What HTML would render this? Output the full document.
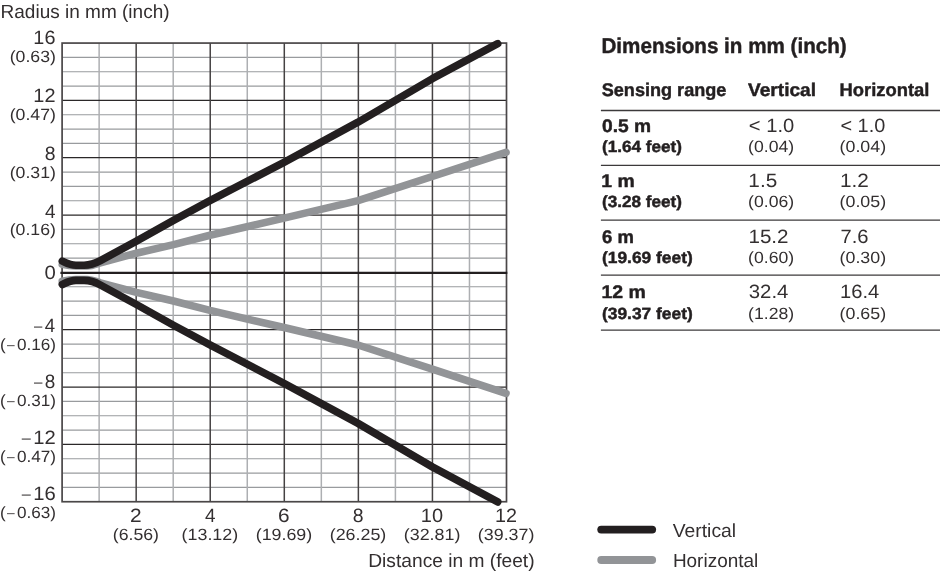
<!DOCTYPE html>
<html lang="en"><head><meta charset="utf-8"><title>Dimensions in mm (inch)</title>
<style>
html,body{margin:0;padding:0;background:#fff;}
body{width:940px;height:575px;overflow:hidden;position:relative;font-family:"Liberation Sans",sans-serif;}
svg{position:absolute;left:0;top:0;display:block;}
text{font-family:"Liberation Sans",sans-serif;fill:#332f30;text-rendering:geometricPrecision;}
.b{font-weight:bold;fill:#231f20;stroke:#231f20;stroke-width:0.45px;stroke-linejoin:round;}
</style></head><body>
<svg width="940" height="575" viewBox="0 0 940 575">
<rect width="940" height="575" fill="#fff"/>
<g stroke="#adafb2" fill="none">
<line x1="62.1" y1="57.40" x2="506.5" y2="57.40" stroke="#999b9e" stroke-width="1.15"/>
<line x1="62.1" y1="71.74" x2="506.5" y2="71.74" stroke="#999b9e" stroke-width="1.15"/>
<line x1="62.1" y1="86.07" x2="506.5" y2="86.07" stroke="#999b9e" stroke-width="1.15"/>
<line x1="62.1" y1="114.74" x2="506.5" y2="114.74" stroke="#999b9e" stroke-width="1.15"/>
<line x1="62.1" y1="129.07" x2="506.5" y2="129.07" stroke="#999b9e" stroke-width="1.15"/>
<line x1="62.1" y1="143.40" x2="506.5" y2="143.40" stroke="#999b9e" stroke-width="1.15"/>
<line x1="62.1" y1="172.07" x2="506.5" y2="172.07" stroke="#999b9e" stroke-width="1.15"/>
<line x1="62.1" y1="186.40" x2="506.5" y2="186.40" stroke="#999b9e" stroke-width="1.15"/>
<line x1="62.1" y1="200.73" x2="506.5" y2="200.73" stroke="#999b9e" stroke-width="1.15"/>
<line x1="62.1" y1="229.40" x2="506.5" y2="229.40" stroke="#999b9e" stroke-width="1.15"/>
<line x1="62.1" y1="243.73" x2="506.5" y2="243.73" stroke="#999b9e" stroke-width="1.15"/>
<line x1="62.1" y1="258.07" x2="506.5" y2="258.07" stroke="#999b9e" stroke-width="1.15"/>
<line x1="62.1" y1="286.73" x2="506.5" y2="286.73" stroke="#999b9e" stroke-width="1.15"/>
<line x1="62.1" y1="301.07" x2="506.5" y2="301.07" stroke="#999b9e" stroke-width="1.15"/>
<line x1="62.1" y1="315.40" x2="506.5" y2="315.40" stroke="#999b9e" stroke-width="1.15"/>
<line x1="62.1" y1="344.07" x2="506.5" y2="344.07" stroke="#999b9e" stroke-width="1.15"/>
<line x1="62.1" y1="358.40" x2="506.5" y2="358.40" stroke="#999b9e" stroke-width="1.15"/>
<line x1="62.1" y1="372.73" x2="506.5" y2="372.73" stroke="#999b9e" stroke-width="1.15"/>
<line x1="62.1" y1="401.40" x2="506.5" y2="401.40" stroke="#999b9e" stroke-width="1.15"/>
<line x1="62.1" y1="415.73" x2="506.5" y2="415.73" stroke="#999b9e" stroke-width="1.15"/>
<line x1="62.1" y1="430.06" x2="506.5" y2="430.06" stroke="#999b9e" stroke-width="1.15"/>
<line x1="62.1" y1="458.73" x2="506.5" y2="458.73" stroke="#999b9e" stroke-width="1.15"/>
<line x1="62.1" y1="473.06" x2="506.5" y2="473.06" stroke="#999b9e" stroke-width="1.15"/>
<line x1="62.1" y1="487.40" x2="506.5" y2="487.40" stroke="#999b9e" stroke-width="1.15"/>
<line x1="99.13" y1="43.07" x2="99.13" y2="501.73" stroke-width="1.5"/>
<line x1="173.20" y1="43.07" x2="173.20" y2="501.73" stroke-width="1.5"/>
<line x1="247.27" y1="43.07" x2="247.27" y2="501.73" stroke-width="1.5"/>
<line x1="321.33" y1="43.07" x2="321.33" y2="501.73" stroke-width="1.5"/>
<line x1="395.40" y1="43.07" x2="395.40" y2="501.73" stroke-width="1.5"/>
<line x1="469.47" y1="43.07" x2="469.47" y2="501.73" stroke-width="1.5"/>
</g>
<g stroke="#2b2829" fill="none">
<line x1="62.1" y1="100.40" x2="506.5" y2="100.40" stroke-width="1.25"/>
<line x1="62.1" y1="157.74" x2="506.5" y2="157.74" stroke-width="1.25"/>
<line x1="62.1" y1="215.07" x2="506.5" y2="215.07" stroke-width="1.25"/>
<line x1="62.1" y1="329.73" x2="506.5" y2="329.73" stroke-width="1.25"/>
<line x1="62.1" y1="387.06" x2="506.5" y2="387.06" stroke-width="1.25"/>
<line x1="62.1" y1="444.40" x2="506.5" y2="444.40" stroke-width="1.25"/>
<line x1="136.17" y1="43.07" x2="136.17" y2="501.73" stroke="#454243" stroke-width="1.5"/>
<line x1="210.23" y1="43.07" x2="210.23" y2="501.73" stroke="#454243" stroke-width="1.5"/>
<line x1="284.30" y1="43.07" x2="284.30" y2="501.73" stroke="#454243" stroke-width="1.5"/>
<line x1="358.37" y1="43.07" x2="358.37" y2="501.73" stroke="#454243" stroke-width="1.5"/>
<line x1="432.43" y1="43.07" x2="432.43" y2="501.73" stroke="#454243" stroke-width="1.5"/>
</g>
<rect x="62.1" y="43.07" width="444.40" height="458.66" fill="none" stroke="#4a4748" stroke-width="1.7"/>
<line x1="60.4" y1="272.95" x2="507.3" y2="272.95" stroke="#231f20" stroke-width="2.2"/>
<path d="M62.3,264.3 C66.0,265.2 70.0,266.0 76.0,266.0 L87.0,266.0 C92.0,266.0 96.0,264.2 100.4,262.8 L136.4,253.2 173.5,244.6 210.0,235.2 284.0,218.1 358.0,200.6 432.3,176.5 506.0,152.3" fill="none" stroke="#929497" stroke-width="7.6" stroke-linecap="round" stroke-linejoin="round"/>
<path d="M62.3,281.3 C66.0,280.4 70.0,279.6 76.0,279.6 L87.0,279.6 C92.0,279.6 96.0,281.4 100.4,282.8 L136.4,292.4 173.5,301.0 210.0,310.4 284.0,327.5 358.0,345.0 432.3,369.1 506.0,393.3" fill="none" stroke="#929497" stroke-width="7.6" stroke-linecap="round" stroke-linejoin="round"/>
<path d="M62.3,261.1 C66.0,262.8 70.0,265.2 76.0,265.2 L84.0,265.2 C90.0,265.2 94.0,264.1 100.4,260.6 L136.4,241.1 173.5,220.4 210.0,200.7 284.0,162.3 358.0,122.2 432.3,78.7 497.7,43.7" fill="none" stroke="#231f20" stroke-width="7.6" stroke-linecap="round" stroke-linejoin="round"/>
<path d="M62.3,284.5 C66.0,282.8 70.0,280.4 76.0,280.4 L84.0,280.4 C90.0,280.4 94.0,281.5 100.4,285.0 L136.4,304.5 173.5,325.2 210.0,344.9 284.0,383.3 358.0,423.4 432.3,466.9 497.7,501.9" fill="none" stroke="#231f20" stroke-width="7.6" stroke-linecap="round" stroke-linejoin="round"/>
<line x1="601.2" y1="529.6" x2="652.2" y2="529.6" stroke="#231f20" stroke-width="7.8" stroke-linecap="round"/>
<line x1="601.2" y1="560.0" x2="652.2" y2="560.0" stroke="#929497" stroke-width="7.8" stroke-linecap="round"/>
<g stroke="#3c3a3b" stroke-width="1.3">
<line x1="600.9" y1="110.5" x2="940" y2="110.5"/>
<line x1="600.9" y1="165.4" x2="940" y2="165.4"/>
<line x1="600.9" y1="220.2" x2="940" y2="220.2"/>
<line x1="600.9" y1="275.1" x2="940" y2="275.1"/>
<line x1="600.9" y1="330.1" x2="940" y2="330.1"/>
</g>
<text x="0.57" y="17.60" font-size="19.0" textLength="169.00" lengthAdjust="spacingAndGlyphs">Radius in mm (inch)</text>
<text x="368.26" y="566.80" font-size="19.0" textLength="166.34" lengthAdjust="spacingAndGlyphs">Distance in m (feet)</text>
<text x="672.75" y="536.70" font-size="19.0" textLength="63.34" lengthAdjust="spacingAndGlyphs">Vertical</text>
<text x="672.89" y="567.30" font-size="19.0" textLength="85.41" lengthAdjust="spacingAndGlyphs">Horizontal</text>
<text x="33.36" y="44.00" font-size="19.3" textLength="22.04" lengthAdjust="spacingAndGlyphs">16</text>
<text x="9.68" y="62.00" font-size="16.2" textLength="46.24" lengthAdjust="spacingAndGlyphs">(0.63)</text>
<text x="33.35" y="102.00" font-size="19.3" textLength="22.15" lengthAdjust="spacingAndGlyphs">12</text>
<text x="9.68" y="120.00" font-size="16.2" textLength="46.24" lengthAdjust="spacingAndGlyphs">(0.47)</text>
<text x="44.77" y="160.00" font-size="19.3" textLength="10.80" lengthAdjust="spacingAndGlyphs">8</text>
<text x="9.68" y="178.00" font-size="16.2" textLength="46.24" lengthAdjust="spacingAndGlyphs">(0.31)</text>
<text x="44.97" y="218.00" font-size="19.3" textLength="10.51" lengthAdjust="spacingAndGlyphs">4</text>
<text x="9.68" y="235.00" font-size="16.2" textLength="46.24" lengthAdjust="spacingAndGlyphs">(0.16)</text>
<text x="44.52" y="279.00" font-size="19.3" textLength="11.32" lengthAdjust="spacingAndGlyphs">0</text>
<text x="34.00" y="332.00" font-size="19.3" textLength="21.09" lengthAdjust="spacingAndGlyphs"><tspan font-size="80%" dy="-0.06em">–</tspan><tspan dx="0.13em" dy="0.048em">4</tspan></text>
<text x="-0.04" y="350.00" font-size="16.2" textLength="56.01" lengthAdjust="spacingAndGlyphs">(<tspan dx="0.1em" font-size="80%" dy="-0.06em">–</tspan><tspan dx="0.13em" dy="0.048em">0.16)</tspan></text>
<text x="33.99" y="388.00" font-size="19.3" textLength="21.40" lengthAdjust="spacingAndGlyphs"><tspan font-size="80%" dy="-0.06em">–</tspan><tspan dx="0.13em" dy="0.048em">8</tspan></text>
<text x="-0.04" y="406.00" font-size="16.2" textLength="56.01" lengthAdjust="spacingAndGlyphs">(<tspan dx="0.1em" font-size="80%" dy="-0.06em">–</tspan><tspan dx="0.13em" dy="0.048em">0.31)</tspan></text>
<text x="21.69" y="444.00" font-size="19.3" textLength="34.12" lengthAdjust="spacingAndGlyphs"><tspan font-size="80%" dy="-0.06em">–</tspan><tspan dx="0.13em" dy="0.048em">12</tspan></text>
<text x="-0.04" y="462.00" font-size="16.2" textLength="56.01" lengthAdjust="spacingAndGlyphs">(<tspan dx="0.1em" font-size="80%" dy="-0.06em">–</tspan><tspan dx="0.13em" dy="0.048em">0.47)</tspan></text>
<text x="21.69" y="500.00" font-size="19.3" textLength="34.14" lengthAdjust="spacingAndGlyphs"><tspan font-size="80%" dy="-0.06em">–</tspan><tspan dx="0.13em" dy="0.048em">16</tspan></text>
<text x="-0.04" y="518.00" font-size="16.2" textLength="56.01" lengthAdjust="spacingAndGlyphs">(<tspan dx="0.1em" font-size="80%" dy="-0.06em">–</tspan><tspan dx="0.13em" dy="0.048em">0.63)</tspan></text>
<text x="129.90" y="522.00" font-size="19.3" textLength="11.64" lengthAdjust="spacingAndGlyphs">2</text>
<text x="112.75" y="539.50" font-size="16.2" textLength="46.24" lengthAdjust="spacingAndGlyphs">(6.56)</text>
<text x="204.90" y="522.00" font-size="19.3" textLength="10.51" lengthAdjust="spacingAndGlyphs">4</text>
<text x="181.62" y="539.50" font-size="16.2" textLength="56.54" lengthAdjust="spacingAndGlyphs">(13.12)</text>
<text x="278.04" y="522.00" font-size="19.3" textLength="11.57" lengthAdjust="spacingAndGlyphs">6</text>
<text x="255.69" y="539.50" font-size="16.2" textLength="56.54" lengthAdjust="spacingAndGlyphs">(19.69)</text>
<text x="352.83" y="522.00" font-size="19.3" textLength="10.80" lengthAdjust="spacingAndGlyphs">8</text>
<text x="329.75" y="539.50" font-size="16.2" textLength="56.54" lengthAdjust="spacingAndGlyphs">(26.25)</text>
<text x="420.88" y="522.00" font-size="19.3" textLength="22.25" lengthAdjust="spacingAndGlyphs">10</text>
<text x="403.82" y="539.50" font-size="16.2" textLength="56.54" lengthAdjust="spacingAndGlyphs">(32.81)</text>
<text x="495.04" y="522.00" font-size="19.3" textLength="21.98" lengthAdjust="spacingAndGlyphs">12</text>
<text x="477.89" y="539.50" font-size="16.2" textLength="56.54" lengthAdjust="spacingAndGlyphs">(39.37)</text>
<text x="601.46" y="53.00" font-size="21.3" class="b" textLength="245.25" lengthAdjust="spacingAndGlyphs">Dimensions in mm (inch)</text>
<text x="601.73" y="96.00" font-size="18.3" class="b" textLength="124.65" lengthAdjust="spacingAndGlyphs">Sensing range</text>
<text x="748.01" y="96.00" font-size="18.3" class="b" textLength="68.04" lengthAdjust="spacingAndGlyphs">Vertical</text>
<text x="839.58" y="96.00" font-size="18.3" class="b" textLength="89.82" lengthAdjust="spacingAndGlyphs">Horizontal</text>
<text x="602.00" y="132.00" font-size="18.2" class="b" textLength="49.11" lengthAdjust="spacingAndGlyphs">0.5 m</text>
<text x="602.04" y="152.00" font-size="16.2" class="b" textLength="79.97" lengthAdjust="spacingAndGlyphs">(1.64 feet)</text>
<text x="748.83" y="132.00" font-size="19.3" textLength="45.45" lengthAdjust="spacingAndGlyphs">&lt; 1.0</text>
<text x="748.09" y="152.00" font-size="16.2" textLength="46.01" lengthAdjust="spacingAndGlyphs">(0.04)</text>
<text x="840.45" y="132.00" font-size="19.3" textLength="44.81" lengthAdjust="spacingAndGlyphs">&lt; 1.0</text>
<text x="839.57" y="152.00" font-size="16.2" textLength="46.54" lengthAdjust="spacingAndGlyphs">(0.04)</text>
<text x="601.37" y="187.00" font-size="18.2" class="b" textLength="33.38" lengthAdjust="spacingAndGlyphs">1 m</text>
<text x="602.04" y="207.00" font-size="16.2" class="b" textLength="79.97" lengthAdjust="spacingAndGlyphs">(3.28 feet)</text>
<text x="748.37" y="187.00" font-size="19.3" textLength="28.85" lengthAdjust="spacingAndGlyphs">1.5</text>
<text x="748.09" y="207.00" font-size="16.2" textLength="46.01" lengthAdjust="spacingAndGlyphs">(0.06)</text>
<text x="839.97" y="187.00" font-size="19.3" textLength="28.86" lengthAdjust="spacingAndGlyphs">1.2</text>
<text x="839.57" y="207.00" font-size="16.2" textLength="46.54" lengthAdjust="spacingAndGlyphs">(0.05)</text>
<text x="602.05" y="243.00" font-size="18.2" class="b" textLength="31.83" lengthAdjust="spacingAndGlyphs">6 m</text>
<text x="602.04" y="263.00" font-size="16.2" class="b" textLength="90.67" lengthAdjust="spacingAndGlyphs">(19.69 feet)</text>
<text x="748.44" y="243.00" font-size="19.3" textLength="40.11" lengthAdjust="spacingAndGlyphs">15.2</text>
<text x="748.09" y="263.00" font-size="16.2" textLength="46.01" lengthAdjust="spacingAndGlyphs">(0.60)</text>
<text x="840.42" y="243.00" font-size="19.3" textLength="28.08" lengthAdjust="spacingAndGlyphs">7.6</text>
<text x="839.57" y="263.00" font-size="16.2" textLength="46.54" lengthAdjust="spacingAndGlyphs">(0.30)</text>
<text x="601.41" y="298.00" font-size="18.2" class="b" textLength="44.39" lengthAdjust="spacingAndGlyphs">12 m</text>
<text x="602.04" y="319.00" font-size="16.2" class="b" textLength="90.67" lengthAdjust="spacingAndGlyphs">(39.37 feet)</text>
<text x="748.79" y="298.00" font-size="19.3" textLength="39.66" lengthAdjust="spacingAndGlyphs">32.4</text>
<text x="748.09" y="319.00" font-size="16.2" textLength="46.01" lengthAdjust="spacingAndGlyphs">(1.28)</text>
<text x="840.13" y="298.00" font-size="19.3" textLength="39.18" lengthAdjust="spacingAndGlyphs">16.4</text>
<text x="839.57" y="319.00" font-size="16.2" textLength="46.54" lengthAdjust="spacingAndGlyphs">(0.65)</text>
</svg>
</body></html>
